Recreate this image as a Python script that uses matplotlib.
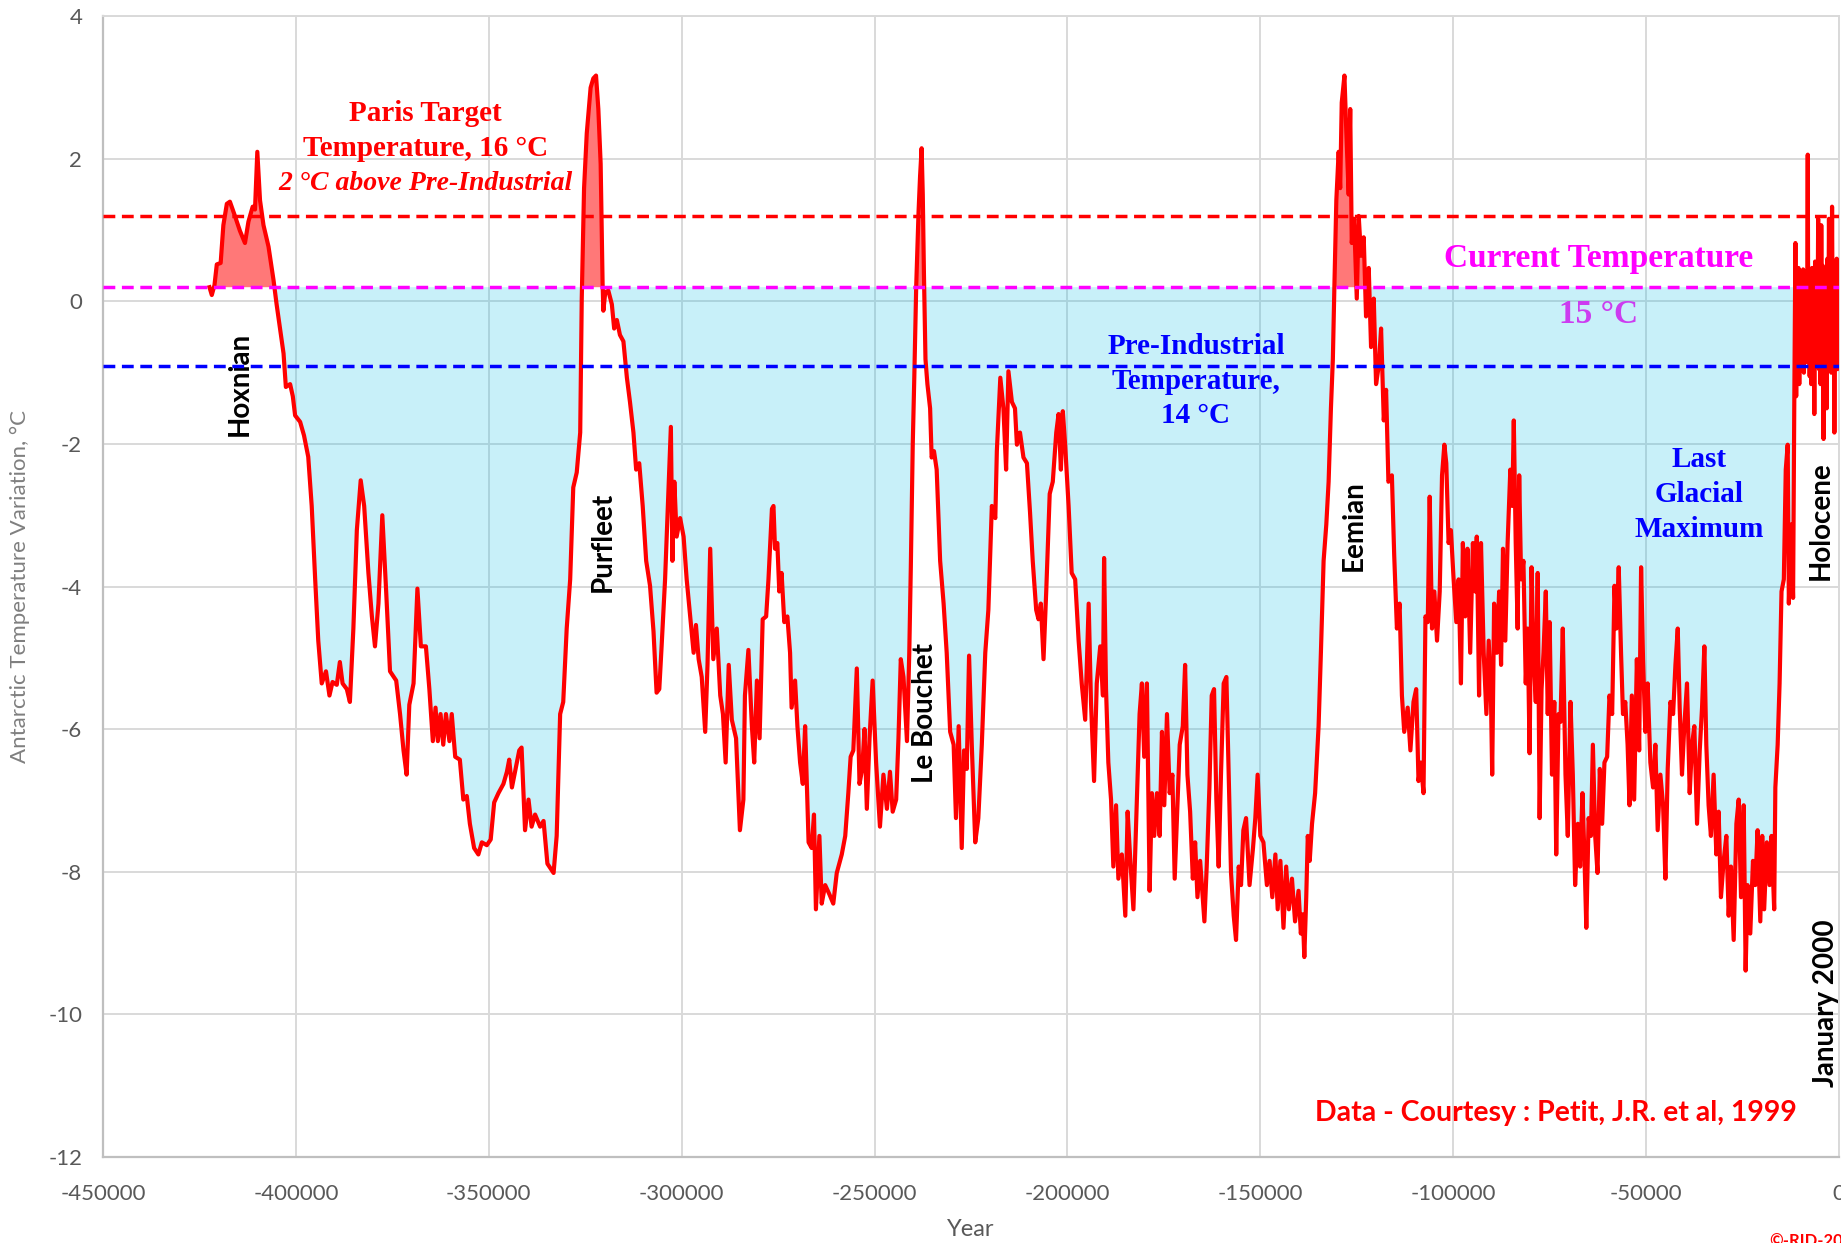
import numpy as np
import matplotlib
matplotlib.use("Agg")
import matplotlib.pyplot as plt

# Vostok temperature anomaly (deg C) against age (thousands of years, negative = before present)
mis11_to_mis9 = [
    (-422.4, 0.20), (-421.8, 0.09), (-421.1, 0.23), (-420.5, 0.52), (-419.5, 0.54), (-418.8, 1.07),
    (-417.9, 1.37), (-417.1, 1.40), (-415.8, 1.20), (-414.5, 0.99), (-413.2, 0.82), (-412.3, 1.12),
    (-411.2, 1.33), (-410.6, 1.29), (-410.0, 2.10), (-409.3, 1.42), (-408.4, 1.07), (-407.1, 0.77),
    (-405.8, 0.30), (-405.0, -0.04), (-404.1, -0.38), (-403.2, -0.73), (-402.6, -1.20), (-401.5, -1.16),
    (-400.8, -1.33), (-400.2, -1.60), (-398.9, -1.69), (-397.9, -1.88), (-396.8, -2.18), (-395.9, -2.87),
    (-395.0, -3.90), (-394.2, -4.76), (-393.3, -5.36), (-392.2, -5.19), (-391.3, -5.53), (-390.5, -5.34),
    (-389.4, -5.38), (-388.6, -5.06), (-387.9, -5.36), (-386.8, -5.44), (-386.0, -5.62), (-385.1, -4.59),
    (-384.2, -3.21), (-383.2, -2.51), (-382.3, -2.87), (-381.2, -3.81), (-380.3, -4.42), (-379.5, -4.84),
    (-378.6, -4.24), (-377.6, -3.00), (-376.6, -4.07), (-375.6, -5.19), (-374.0, -5.32), (-373.0, -5.79),
    (-372.1, -6.30), (-371.3, -6.64), (-370.6, -5.66), (-369.5, -5.36), (-368.5, -4.03), (-367.6, -4.84),
    (-366.3, -4.84), (-365.4, -5.44), (-364.5, -6.17), (-363.8, -5.70), (-363.2, -6.17), (-362.5, -5.79),
    (-361.8, -6.22), (-361.1, -5.79), (-360.2, -6.17), (-359.6, -5.79), (-358.7, -6.39), (-357.5, -6.43),
    (-356.6, -6.99), (-355.7, -6.94), (-354.9, -7.33), (-353.8, -7.67), (-352.7, -7.76), (-351.8, -7.59),
    (-350.5, -7.63), (-349.5, -7.55), (-348.6, -7.03), (-347.5, -6.90), (-346.2, -6.77), (-345.3, -6.60),
    (-344.7, -6.43), (-344.0, -6.82), (-343.2, -6.60), (-342.1, -6.30), (-341.5, -6.26), (-340.6, -7.42),
    (-339.7, -6.99), (-338.9, -7.37), (-338.0, -7.20), (-336.7, -7.37), (-335.8, -7.29), (-334.8, -7.89),
    (-333.2, -8.02), (-332.4, -7.50), (-331.5, -5.79), (-330.7, -5.62), (-329.8, -4.59), (-328.9, -3.90),
    (-328.1, -2.61), (-327.2, -2.40), (-326.3, -1.84),
]

mis9_to_mis7 = [
    (-325.9, 0.04), (-325.3, 1.59), (-324.6, 2.36), (-323.6, 3.00), (-322.9, 3.13), (-322.2, 3.17),
    (-321.6, 2.70), (-321.0, 1.93), (-320.5, 0.26), (-320.3, -0.13), (-319.8, 0.13), (-319.0, 0.15),
    (-318.1, -0.04), (-317.5, -0.38), (-316.8, -0.26), (-316.0, -0.47), (-315.1, -0.56), (-314.2, -1.07),
    (-313.4, -1.41), (-312.5, -1.84), (-311.8, -2.36), (-311.0, -2.27), (-310.1, -2.87), (-309.2, -3.64),
    (-308.2, -3.99), (-307.3, -4.63), (-306.5, -5.49), (-305.8, -5.44), (-305.2, -4.84), (-304.3, -3.90),
    (-303.4, -2.61), (-302.8, -1.76), (-302.4, -3.64), (-301.9, -2.53), (-301.3, -3.30), (-300.4, -3.04),
    (-299.5, -3.30), (-298.7, -3.90), (-297.8, -4.42), (-296.9, -4.93), (-296.3, -4.54), (-295.6, -5.02),
    (-294.8, -5.27), (-293.9, -6.04), (-293.3, -5.10), (-292.6, -3.47), (-291.8, -5.02), (-290.9, -4.59),
    (-290.0, -5.53), (-289.3, -5.79), (-288.6, -6.47), (-287.8, -5.10), (-287.0, -5.87), (-285.9, -6.13),
    (-284.9, -7.42), (-284.0, -6.99), (-283.6, -5.53), (-282.7, -4.89), (-281.8, -5.96), (-281.2, -6.47),
    (-280.5, -5.32), (-279.8, -6.13), (-279.0, -4.46), (-278.1, -4.42), (-277.5, -3.90), (-276.6, -2.91),
    (-276.2, -2.87), (-275.8, -3.47), (-275.2, -3.39), (-274.7, -4.07), (-274.1, -3.81), (-273.4, -4.50),
    (-272.6, -4.42), (-271.9, -4.93), (-271.5, -5.70), (-270.6, -5.32), (-270.0, -5.96), (-269.3, -6.47),
    (-268.6, -6.77), (-268.0, -5.96), (-267.1, -7.59), (-266.3, -7.67), (-265.7, -7.20), (-265.2, -8.53),
    (-264.3, -7.50), (-263.7, -8.45), (-262.8, -8.19), (-261.7, -8.32), (-260.7, -8.45), (-259.8, -8.02),
    (-258.5, -7.76), (-257.6, -7.50), (-256.8, -6.90), (-256.2, -6.39), (-255.5, -6.30), (-254.6, -5.15),
    (-253.9, -6.77), (-253.2, -6.56), (-252.6, -6.00), (-252.0, -7.12), (-251.3, -6.13), (-250.5, -5.32),
    (-249.6, -6.47), (-248.6, -7.37), (-247.7, -6.64), (-246.8, -7.12), (-246.0, -6.60), (-245.3, -7.16),
    (-244.4, -6.99), (-243.8, -6.13), (-243.2, -5.02), (-242.5, -5.27), (-241.6, -6.17), (-241.0, -4.93),
    (-240.6, -3.73),
]

mis7_to_mis5 = [
    (-240.1, -2.01), (-239.7, -1.07), (-239.2, 0.22), (-238.6, 1.25), (-238.2, 1.76), (-237.8, 2.15),
    (-237.5, 1.50), (-237.2, 0.39), (-236.8, -0.81), (-236.3, -1.16), (-235.6, -1.50), (-235.2, -2.19),
    (-234.6, -2.10), (-233.9, -2.36), (-233.0, -3.64), (-232.1, -4.24), (-231.3, -4.93), (-230.4, -6.04),
    (-229.5, -6.22), (-228.9, -7.25), (-228.2, -5.96), (-227.4, -7.67), (-226.8, -6.30), (-226.1, -6.56),
    (-225.5, -4.97), (-224.8, -6.22), (-223.9, -7.59), (-223.1, -7.25), (-222.2, -6.22), (-221.3, -4.93),
    (-220.5, -4.33), (-219.6, -2.87), (-218.7, -3.04), (-218.3, -2.10), (-217.4, -1.07), (-216.6, -1.50),
    (-215.9, -2.36), (-215.3, -0.98), (-214.4, -1.41), (-213.6, -1.50), (-213.1, -2.01), (-212.3, -1.84),
    (-211.4, -2.19), (-210.5, -2.27), (-209.7, -2.96), (-209.0, -3.64), (-208.1, -4.33), (-207.5, -4.46),
    (-206.9, -4.24), (-206.2, -5.02), (-205.5, -4.07), (-204.6, -2.70), (-203.8, -2.53), (-202.9, -1.84),
    (-202.3, -1.58), (-201.7, -2.36), (-201.2, -1.54), (-200.6, -2.01), (-199.7, -2.87), (-198.9, -3.81),
    (-198.0, -3.90), (-197.1, -4.76), (-196.3, -5.36), (-195.4, -5.87), (-194.5, -4.24), (-193.9, -5.62),
    (-193.1, -6.73), (-192.4, -5.36), (-191.5, -4.84), (-190.8, -5.53), (-190.5, -3.60), (-190.0, -5.44),
    (-189.4, -6.47), (-188.7, -6.99), (-188.1, -7.93), (-187.4, -7.07), (-186.8, -8.10), (-185.9, -7.76),
    (-185.0, -8.62), (-184.4, -7.16), (-183.7, -7.85), (-182.9, -8.53), (-182.2, -7.33), (-181.3, -5.79),
    (-180.7, -5.36), (-180.1, -6.39), (-179.4, -5.36), (-178.7, -8.27), (-178.1, -6.90), (-177.5, -7.50),
    (-176.8, -6.90), (-176.1, -7.50), (-175.5, -6.04), (-174.9, -7.07), (-174.2, -5.79), (-173.5, -6.90),
    (-172.8, -6.64), (-172.2, -8.10), (-171.6, -7.25), (-170.9, -6.22), (-170.1, -5.96), (-169.5, -5.10),
    (-168.9, -6.64), (-168.2, -7.16), (-167.5, -8.10), (-166.9, -7.59), (-166.3, -8.36), (-165.6, -7.85),
    (-164.5, -8.70), (-163.9, -7.93), (-163.2, -6.82), (-162.6, -5.53), (-162.0, -5.44), (-161.4, -6.99),
    (-160.8, -7.93), (-160.2, -6.64), (-159.5, -5.36), (-158.8, -5.27), (-158.2, -6.64), (-157.6, -8.02),
    (-156.9, -8.62), (-156.3, -8.96), (-155.6, -7.93), (-155.0, -8.19), (-154.4, -7.42), (-153.7, -7.25),
    (-152.8, -8.19), (-151.9, -7.67), (-151.3, -7.25), (-150.7, -6.64), (-150.0, -7.50), (-149.2, -7.59),
    (-148.3, -8.19), (-147.6, -7.85), (-146.9, -8.36), (-146.1, -7.76), (-145.5, -8.53), (-144.8, -7.85),
    (-144.0, -8.79), (-143.3, -7.93), (-142.6, -8.53), (-141.8, -8.10), (-141.0, -8.70), (-140.1, -8.27),
    (-139.5, -8.87), (-139.0, -8.60), (-138.6, -9.20), (-138.1, -8.36), (-137.7, -7.50), (-137.2, -7.85),
    (-136.6, -7.33), (-135.8, -6.90), (-134.9, -5.96), (-134.3, -4.93), (-133.6, -3.64), (-132.9, -3.13),
    (-132.3, -2.53), (-131.7, -1.50), (-131.2, -0.81),
]

mis5_to_lgm = [
    (-130.8, 0.22), (-130.3, 1.42), (-129.7, 2.10), (-129.3, 1.59), (-128.9, 2.79), (-128.2, 3.17),
    (-127.7, 2.36), (-127.1, 1.50), (-126.7, 2.70), (-126.3, 0.82), (-125.7, 1.16), (-125.0, 0.04),
    (-124.5, 1.20), (-123.9, 0.64), (-123.2, 0.90), (-122.6, -0.21), (-121.9, 0.47), (-121.3, -0.64),
    (-120.6, 0.04), (-120.0, -1.16), (-119.3, -0.90), (-118.7, -0.38), (-118.0, -1.67), (-117.4, -1.24),
    (-116.8, -2.53), (-115.9, -2.44), (-115.3, -3.56), (-114.6, -4.59), (-113.9, -4.24), (-113.3, -5.53),
    (-112.7, -6.04), (-111.8, -5.70), (-111.1, -6.30), (-110.3, -5.62), (-109.6, -5.44), (-109.0, -6.73),
    (-108.4, -6.47), (-107.7, -6.90), (-107.2, -4.42), (-106.6, -4.50), (-106.1, -2.74), (-105.5, -4.59),
    (-104.9, -4.07), (-104.2, -4.76), (-103.5, -4.07), (-102.9, -2.44), (-102.3, -2.01), (-101.8, -2.27),
    (-101.2, -3.39), (-100.6, -3.21), (-99.9, -3.90), (-99.2, -4.50), (-98.6, -3.90), (-98.0, -5.36),
    (-97.5, -3.39), (-96.9, -4.42), (-96.3, -3.47), (-95.6, -4.93), (-94.9, -3.39), (-94.3, -4.07),
    (-93.9, -3.30), (-93.3, -5.53), (-92.8, -3.39), (-92.1, -4.93), (-91.4, -5.79), (-90.8, -4.76),
    (-90.2, -5.62), (-89.9, -6.64), (-89.4, -4.24), (-88.7, -4.93), (-88.1, -4.07), (-87.6, -5.10),
    (-87.1, -3.47), (-86.5, -4.76), (-85.9, -3.39), (-85.2, -2.36), (-84.7, -2.87), (-84.3, -1.67),
    (-83.8, -3.39), (-83.3, -4.59), (-82.9, -2.44), (-82.4, -3.90), (-81.8, -3.64), (-81.2, -5.36),
    (-80.7, -4.59), (-80.2, -6.34), (-79.7, -3.73), (-79.2, -4.93), (-78.6, -5.62), (-78.1, -3.81),
    (-77.6, -7.25), (-77.1, -5.44), (-76.6, -4.93), (-76.0, -4.07), (-75.5, -5.79), (-75.0, -4.50),
    (-74.4, -6.64), (-73.8, -5.62), (-73.3, -7.76), (-72.7, -5.79), (-72.2, -5.90), (-71.6, -4.59),
    (-70.9, -6.64), (-70.3, -7.50), (-69.6, -5.62), (-69.0, -6.64), (-68.4, -8.19), (-67.7, -7.33),
    (-67.1, -7.93), (-66.5, -6.90), (-66.0, -7.76), (-65.5, -8.79), (-64.9, -7.25), (-64.3, -7.50),
    (-63.8, -6.22), (-63.2, -7.50), (-62.6, -8.02), (-62.0, -6.56), (-61.4, -7.33), (-60.8, -6.47),
    (-60.1, -6.39), (-59.5, -5.53), (-58.8, -5.79), (-58.2, -3.99), (-57.7, -4.59), (-57.1, -3.73),
    (-56.5, -4.93), (-56.0, -5.79), (-55.4, -5.62), (-54.8, -6.22), (-54.3, -7.07), (-53.7, -5.53),
    (-53.1, -6.99), (-52.4, -5.02), (-51.8, -6.30), (-51.3, -3.73), (-50.8, -5.02), (-50.2, -6.04),
    (-49.6, -5.36), (-48.9, -6.47), (-48.2, -6.82), (-47.6, -6.22), (-47.0, -7.42), (-46.3, -6.64),
    (-45.6, -7.07), (-45.0, -8.10), (-44.4, -6.56), (-43.7, -5.62), (-43.0, -5.79), (-42.4, -5.10),
    (-41.8, -4.59), (-41.3, -5.70), (-40.7, -6.64), (-40.1, -5.96), (-39.4, -5.36), (-38.7, -6.90),
    (-38.1, -6.22), (-37.5, -5.96), (-36.8, -7.33), (-36.1, -6.30), (-35.5, -5.70), (-34.9, -4.84),
    (-34.4, -6.22), (-33.8, -7.07), (-33.2, -7.50), (-32.5, -6.64), (-31.8, -7.76), (-31.2, -7.16),
    (-30.6, -8.36), (-29.9, -7.85), (-29.2, -7.50), (-28.6, -8.62), (-28.0, -7.93), (-27.3, -8.96),
    (-26.6, -7.33), (-26.0, -6.99), (-25.4, -8.36), (-24.7, -7.07), (-24.2, -9.39), (-23.7, -8.19),
    (-23.0, -8.87), (-22.3, -7.85), (-21.7, -8.19), (-21.1, -7.42), (-20.4, -8.70), (-19.9, -7.50),
    (-19.4, -8.53), (-18.7, -7.59), (-18.0, -8.19), (-17.5, -7.50), (-16.8, -8.53), (-16.5, -6.82),
    (-15.9, -6.22), (-15.4, -5.36), (-14.9, -4.07), (-14.3, -3.90), (-13.8, -2.36), (-13.3, -2.01),
    (-13.0, -4.24), (-12.4, -3.13), (-11.9, -4.16), (-11.6, -1.50),
]

holocene = [
    (-11.3, 0.82), (-11.1, -1.33), (-10.9, 0.39), (-10.7, -0.81), (-10.5, 0.47), (-10.3, -1.16),
    (-10.1, 0.30), (-9.9, -0.95), (-9.7, 0.39), (-9.5, -0.70), (-9.3, 0.45), (-9.1, -1.00),
    (-8.9, 0.35), (-8.7, -0.60), (-8.5, 0.42), (-8.3, -0.85), (-8.1, 2.06), (-7.95, -0.81),
    (-7.8, 0.39), (-7.6, -1.05), (-7.4, 0.30), (-7.2, -1.16), (-7.0, 0.47), (-6.8, -0.90),
    (-6.6, 0.40), (-6.4, -1.58), (-6.2, 0.56), (-6.0, -0.70), (-5.8, 0.35), (-5.6, -0.81),
    (-5.4, 1.16), (-5.2, -0.95), (-5.0, 0.45), (-4.8, -1.16), (-4.6, 1.07), (-4.4, -0.64),
    (-4.2, 0.50), (-4.0, -1.93), (-3.8, 0.39), (-3.6, -0.90), (-3.4, 0.45), (-3.2, -1.50),
    (-3.0, 0.60), (-2.8, -0.80), (-2.6, 1.16), (-2.4, -0.81), (-2.2, 0.40), (-2.0, -1.00),
    (-1.8, 1.33), (-1.6, -0.90), (-1.4, 0.50), (-1.2, -1.84), (-1.0, 0.35), (-0.8, -0.75),
    (-0.6, 0.60), (-0.4, -0.95), (-0.2, 0.22), (0.0, 0.00),
]

# Reference temperature levels (anomaly, deg C)
paris_target = 1.2
current_temp = 0.2
pre_industrial = -0.9

x_ticks = list(range(-450000, 1, 50000))
y_ticks = list(range(-12, 5, 2))

record = np.array(mis11_to_mis9 + mis9_to_mis7 + mis7_to_mis5 + mis5_to_lgm + holocene)
years = record[:, 0] * 1000.0
temps = record[:, 1]

SERIF = ["Liberation Serif", "DejaVu Serif"]
SANS = ["Lato", "DejaVu Sans"]
plt.rcParams["font.family"] = SANS

W, H = 1841, 1243
fig = plt.figure(figsize=(W / 100, H / 100), dpi=100)
left, right, top, bottom = 103, 1839, 16.4, 1156.6
ax = fig.add_axes([left / W, 1 - bottom / H, (right - left) / W, (bottom - top) / H])

ax.set_xlim(-450000, 0)
ax.set_ylim(-12, 4)
ax.set_axisbelow(True)
ax.grid(True, color="#D9D9D9", lw=1.4)

# Area between the record and today's temperature
ax.fill_between(years, temps, current_temp, where=temps < current_temp, interpolate=True,
                color="#05BBE8", alpha=0.22, lw=0, zorder=1)
ax.fill_between(years, temps, current_temp, where=temps > current_temp, interpolate=True,
                color="#FF7878", lw=0, zorder=1)
ax.plot(years, temps, color="#FF0000", lw=3.0, zorder=3, solid_joinstyle="round")

dash = (0, (3.4, 1.9))
ax.axhline(paris_target, color="#FF0000", lw=2.5, ls=dash, zorder=4)
ax.axhline(current_temp, color="#FF00FF", lw=2.5, ls=dash, zorder=4)
ax.axhline(pre_industrial, color="#0000FF", lw=2.5, ls=dash, zorder=4)

ax.set_xticks(x_ticks)
ax.set_xticklabels([str(v) for v in x_ticks])
ax.set_yticks(y_ticks)
ax.set_yticklabels([str(v) for v in y_ticks])
ax.tick_params(length=0, labelsize=16, labelcolor="#595959")
ax.tick_params(axis="x", pad=20)
ax.tick_params(axis="y", pad=15)
for side in ("top", "right"):
    ax.spines[side].set_color("#D9D9D9")
    ax.spines[side].set_linewidth(1.4)
for side in ("left", "bottom"):
    ax.spines[side].set_color("#BFBFBF")
    ax.spines[side].set_linewidth(1.6)

fig.text(971 / W, 1 - 1230 / H, "Year", ha="center", va="center", fontsize=17, color="#595959")
fig.text(20 / W, 1 - 586 / H, "Antarctic Temperature Variation, °C", ha="center", va="center",
         rotation=90, fontsize=16, color="#7F7F7F")

# Reference level captions
serif_bold = dict(family=SERIF, fontweight="bold", ha="center", va="center")
ax.text(-366500, 2.64, "Paris Target", color="#FF0000", fontsize=21, **serif_bold)
ax.text(-366500, 2.15, "Temperature, 16 °C", color="#FF0000", fontsize=21, **serif_bold)
ax.text(-366500, 1.66, "2 °C above Pre-Industrial", color="#FF0000", fontsize=20,
        style="italic", **serif_bold)
ax.text(-62400, 0.60, "Current Temperature", color="#FF00FF", fontsize=24, **serif_bold)
ax.text(-62400, -0.19, "15 °C", color="#CC3CF0", fontsize=24, **serif_bold)
for y, s in zip((-0.63, -1.13, -1.60), ("Pre-Industrial", "Temperature,", "14 °C")):
    ax.text(-166700, y, s, color="#0000FF", fontsize=21, **serif_bold)
for y, s in zip((-2.22, -2.71, -3.20), ("Last", "Glacial", "Maximum")):
    ax.text(-36200, y, s, color="#0000FF", fontsize=21, **serif_bold)

# Interglacial names
period_labels = [
    (-414500, -1.16, "Hoxnian"),
    (-320400, -3.37, "Purfleet"),
    (-236900, -5.77, "Le Bouchet"),
    (-125900, -3.15, "Eemian"),
    (-4800, -3.08, "Holocene"),
    (-3400, -9.85, "January 2000"),
]
for x, y, s in period_labels:
    ax.text(x, y, s, rotation=90, ha="center", va="center", fontsize=20,
            fontweight="bold", color="black")

ax.text(-73300, -11.39, "Data - Courtesy : Petit, J.R. et al, 1999", ha="center", va="center",
        fontsize=20.5, fontweight="bold", color="#FF0000")
fig.text(1769 / W, 10 / H, "©-RID-2020", ha="left", va="top", fontsize=12,
         fontweight="bold", color="#FF0000")

fig.savefig("out.png", dpi=100)
